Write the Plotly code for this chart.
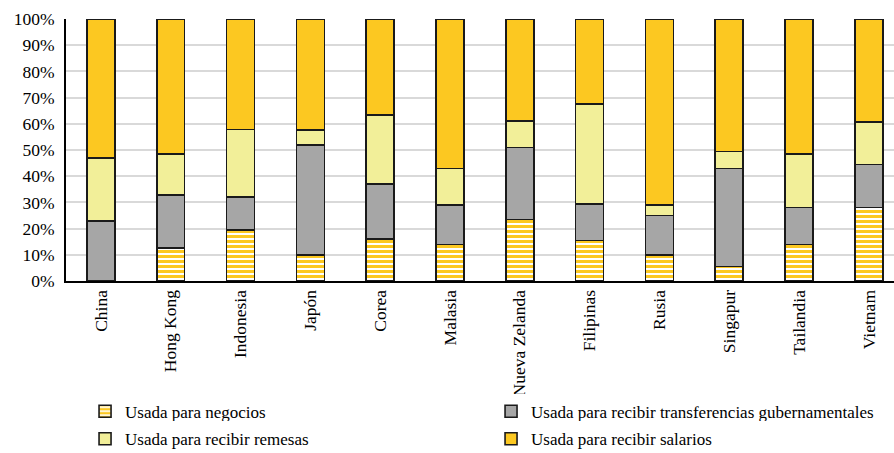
import plotly.graph_objects as go

paises = ["China", "Hong Kong", "Indonesia", "Japón", "Corea", "Malasia",
          "Nueva Zelanda", "Filipinas", "Rusia", "Singapur", "Tailandia", "Vietnam"]

negocios = [0, 12.7, 19.5, 10, 16, 14, 23.5, 15.5, 10, 5.5, 14, 28]
transferencias = [23, 20.2, 12.5, 42, 21, 15, 27.5, 14, 15, 37.5, 14, 16.5]
remesas = [24, 15.5, 25.8, 5.6, 26.4, 14, 10, 38, 4, 6.5, 20.5, 16.3]
salarios = [53, 51.6, 42.2, 42.4, 36.6, 57, 39, 32.5, 71, 50.5, 51.5, 39.2]

ORO = "#FCC821"
GRIS = "#A6A6A6"
AMARILLO = "#F2EF99"
FUENTE = "Liberation Serif"

fig = go.Figure()
linea = dict(color="#1a1a1a", width=1.6)

fig.add_trace(go.Bar(
    x=paises, y=negocios, name="Usada para negocios", legend="legend",
    marker=dict(color="white", line=linea,
                pattern=dict(shape="-", fgcolor=ORO, bgcolor="white",
                             size=5, solidity=0.6, fillmode="replace")),
))
fig.add_trace(go.Bar(
    x=paises, y=transferencias, legend="legend",
    name="Usada para recibir transferencias gubernamentales",
    marker=dict(color=GRIS, line=linea),
))
fig.add_trace(go.Bar(
    x=paises, y=remesas, name="Usada para recibir remesas", legend="legend2",
    marker=dict(color=AMARILLO, line=linea),
))
fig.add_trace(go.Bar(
    x=paises, y=salarios, name="Usada para recibir salarios", legend="legend2",
    marker=dict(color=ORO, line=linea),
))

leyenda = dict(
    orientation="h", x=0.023, xanchor="left", yanchor="top",
    font=dict(family=FUENTE, size=17, color="black"),
    entrywidth=361, entrywidthmode="pixels",
    itemwidth=30, traceorder="normal",
)

fig.update_layout(
    width=894, height=453,
    barmode="stack", bargap=0.6,
    plot_bgcolor="white", paper_bgcolor="white",
    margin=dict(l=66, r=0, t=19, b=172, autoexpand=False),
    font=dict(family=FUENTE, color="black"),
    showlegend=True,
    legend=dict(leyenda, y=-0.43),
    legend2=dict(leyenda, y=-0.535),
)

fig.update_xaxes(
    range=[-0.5, 11.36], tickangle=-90, automargin=False,
    tickfont=dict(family=FUENTE, size=17.5, color="black"),
    showline=True, linecolor="black", linewidth=2,
    ticks="", showgrid=False,
)
fig.update_yaxes(
    range=[0, 100], dtick=10, ticksuffix="%", automargin=False,
    tickfont=dict(family=FUENTE, size=17.5, color="black"),
    ticklabelstandoff=6,
    showline=True, linecolor="black", linewidth=2,
    showgrid=True, gridcolor="#D9D9D9", gridwidth=2,
    zeroline=False, ticks="",
)

fig.write_html("out.html")
